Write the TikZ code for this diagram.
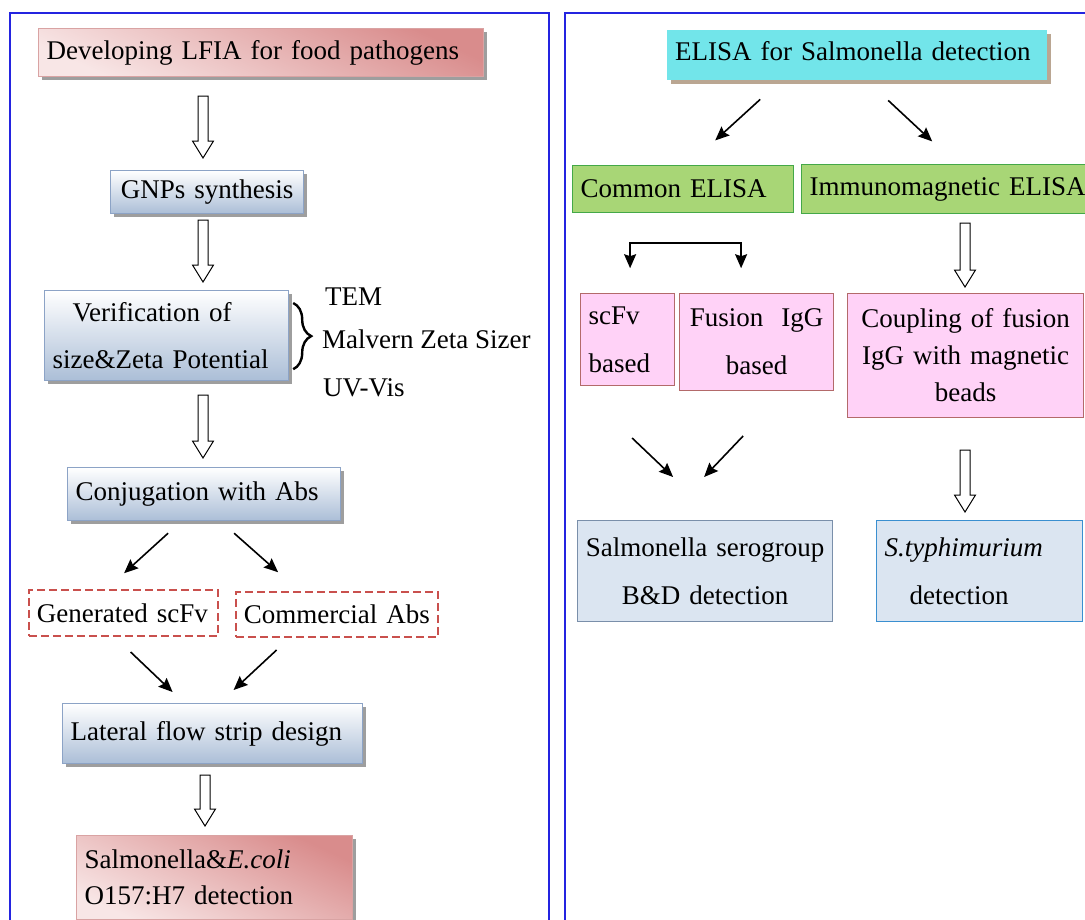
\documentclass[tikz,border=0pt]{standalone}
\usepackage{fontspec}
\setmainfont{Liberation Serif}
\usetikzlibrary{arrows.meta,shadows,calc,decorations.pathreplacing}

\definecolor{framecol}{HTML}{2424E0}
\definecolor{boxedge}{HTML}{8CA3C6}
\definecolor{gradblue}{HTML}{ABBED7}
\definecolor{rededge}{HTML}{D9A3A3}
\definecolor{reddark}{HTML}{D98C8C}
\definecolor{redlight}{HTML}{F8E6E6}
\definecolor{cyanfill}{HTML}{72E5EA}
\definecolor{greenfill}{HTML}{A8D676}
\definecolor{greenedge}{HTML}{44A848}
\definecolor{pinkfill}{HTML}{FFD2F7}
\definecolor{pinkedge}{HTML}{B36A6A}
\definecolor{greyblue}{HTML}{DBE5F1}
\definecolor{greyedge}{HTML}{7A8FAA}
\definecolor{styphedge}{HTML}{3A8FD0}
\definecolor{dashred}{HTML}{C9504D}

\tikzset{
    pics/hollowarrow/.style={code={
        \draw[line width=1pt] (-5,0) -- (5,0) -- (5,#1-17) -- (10.5,#1-17)
            -- (0,#1) -- (-10.5,#1-17) -- (-5,#1-17) -- cycle;}},
    arr/.style={line width=1.6pt, -{Stealth[length=14pt,width=12pt,inset=2pt]}}
}

\begin{document}
\begin{tikzpicture}[x=1pt,y=-1pt,
    every node/.style={font=\fontsize{27}{32}\selectfont, inner ysep=0pt, inner xsep=8pt, anchor=north west},
    shade/.style={drop shadow={shadow xshift=3pt, shadow yshift=-3pt, fill=black!38, opacity=1}},
    bluebox/.style={draw=boxedge, line width=1.2pt, top color=white, bottom color=gradblue, shade},
    redbox/.style={draw=rededge, line width=1.2pt, top color=reddark, bottom color=redlight, shading angle=-25, shade},
    dashbox/.style={draw=dashred, line width=1.8pt, dash pattern=on 8pt off 4pt},
    greenbox/.style={draw=greenedge, line width=1.2pt, fill=greenfill},
    pinkbox/.style={draw=pinkedge, line width=1.2pt, fill=pinkfill},
    greybox/.style={draw=greyedge, line width=1.2pt, fill=greyblue}
]
    \useasboundingbox (0,0) rectangle (1085,919);
    \clip (0,0) rectangle (1085,919);

    % the two panels
    \draw[framecol, line width=2pt] (10,13) rectangle (549,960);
    \draw[framecol, line width=2pt] (565,13) rectangle (1120,960);

    % LFIA side
    \node[redbox, text width=429pt, minimum height=48pt, align=left] (dev) at (38,28)
        {Developing LFIA for food pathogens};
    \node[bluebox, text width=177pt, minimum height=43pt, align=center] (gnp) at (110,170)
        {GNPs synthesis};
    \node[bluebox, text width=228pt, minimum height=90pt, align=left,
        font=\fontsize{27}{47}\selectfont] (ver) at (44,290)
        {\hspace*{20pt}Verification of\\size\&Zeta Potential};
    \node[bluebox, text width=257pt, minimum height=53pt, align=left] (conj) at (67,467)
        {Conjugation with Abs};
    \node[dashbox, text width=173pt, minimum height=46pt, align=left] (gen) at (28,589)
        {Generated scFv};
    \node[dashbox, text width=186pt, minimum height=45pt, align=left] (com) at (235,591)
        {Commercial Abs};
    \node[bluebox, text width=284pt, minimum height=60pt, align=left] (lat) at (62,703)
        {Lateral flow strip design};
    \node[redbox, text width=260pt, minimum height=84pt, align=left,
        font=\fontsize{27}{36}\selectfont] (sal) at (76,835)
        {Salmonella\&\textit{E.coli}\\O157:H7 detection};

    \draw[decorate, decoration={brace, amplitude=18pt}, line width=2.4pt]
        ($(ver.north east)+(4,13)$) -- ($(ver.south east)+(4,-12)$);
    \node[anchor=base west, inner xsep=0pt] (tem) at (325,305) {TEM};
    \node[anchor=base west, inner xsep=0pt] (mal) at (322,348) {Malvern Zeta Sizer};
    \node[anchor=base west, inner xsep=0pt] (uv) at (323,396) {UV-Vis};

    \pic at (203,96) {hollowarrow=62};
    \pic at (203,220) {hollowarrow=62};
    \pic at (203,395) {hollowarrow=63};
    \pic at (205,775) {hollowarrow=51};

    \draw[arr] ($(conj.south)+(-36,12)$) -- ++(-44,40);
    \draw[arr] ($(conj.south)+(30,12)$) -- ++(44,39);
    \draw[arr] ($(lat.north)+(-82,-51)$) -- ($(lat.north)+(-40,-11)$);
    \draw[arr] ($(lat.north)+(64,-53)$) -- ($(lat.north)+(21,-13)$);

    % ELISA side
    \node[fill=cyanfill, text width=364pt, minimum height=50pt, text depth=9pt, align=left,
        drop shadow={shadow xshift=4pt, shadow yshift=-4pt, fill=brown!45!gray!70, opacity=1}] (elisa) at (667,30)
        {ELISA for Salmonella detection};
    \node[greenbox, text width=205pt, minimum height=47pt, align=left] (common) at (572,165)
        {Common ELISA};
    \node[greenbox, text width=284pt, minimum height=49pt, align=left] (immuno) at (801,164)
        {Immunomagnetic ELISA};
    \node[pinkbox, text width=78pt, minimum height=92pt, align=left,
        font=\fontsize{27}{48}\selectfont] (scfv) at (580,293)
        {scFv\\based};
    \node[pinkbox, text width=138pt, minimum height=97pt, align=center,
        font=\fontsize{27}{48}\selectfont] (fusion) at (679,293)
        {Fusion~~IgG\\based};
    \node[pinkbox, text width=220pt, minimum height=124pt, align=center,
        font=\fontsize{27}{37}\selectfont] (coup) at (847,293)
        {Coupling of fusion\\IgG with magnetic\\beads};
    \node[greybox, text width=239pt, minimum height=101pt, align=center,
        font=\fontsize{27}{48}\selectfont] (sero) at (577,520)
        {Salmonella serogroup\\B\&D detection};
    \node[greybox, draw=styphedge, text width=190pt, minimum height=101pt, align=left,
        font=\fontsize{27}{48}\selectfont] (styph) at (876,520)
        {\textit{S.typhimurium}\\\hspace*{25pt}detection};

    \draw[arr] ($(elisa.south)+(-97,19)$) -- ++(-45,41);
    \draw[arr] ($(elisa.south)+(31,20)$) -- ++(44,41);
    \draw[arr, {Stealth[length=14pt,width=12pt,inset=2pt]}-{Stealth[length=14pt,width=12pt,inset=2pt]}]
        ($(common.south)+(-53,55)$) -- ++(0,-25) -- ++(111,0) -- ++(0,25);
    \draw[arr] ($(sero.north)+(-73,-82)$) -- ++(41,39);
    \draw[arr] ($(sero.north)+(38,-84)$) -- ++(-39,41);

    \pic at (965,223) {hollowarrow=64};
    \pic at (965,450) {hollowarrow=62};

\end{tikzpicture}
\end{document}
